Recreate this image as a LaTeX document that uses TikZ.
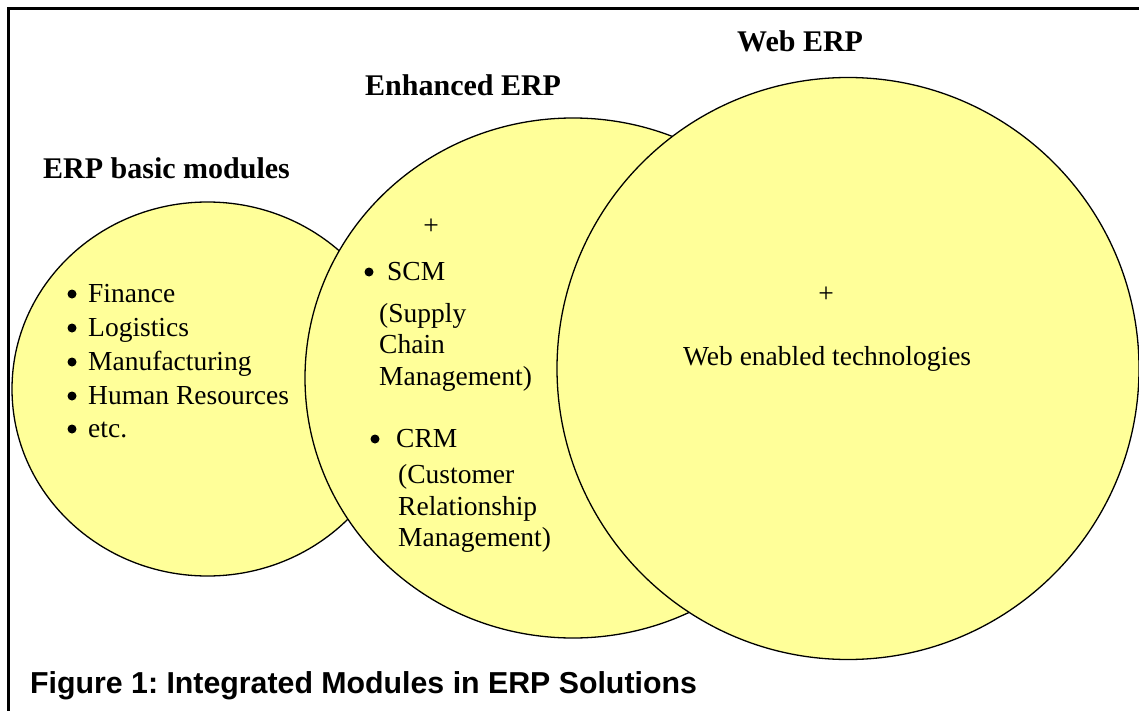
\documentclass[tikz,border=0pt]{standalone}
\usepackage{fontspec}
\setmainfont{Liberation Serif}
\newfontfamily\capfont{Liberation Sans}
\definecolor{blobyellow}{HTML}{FFFF99}
\frenchspacing
\begin{document}
\begin{tikzpicture}[x=1pt,y=-1pt,
  circ/.style={draw=black, line width=1.3pt, fill=blobyellow},
  heading/.style={font=\fontsize{30}{36}\selectfont\bfseries, inner sep=0pt, anchor=base west},
  body/.style={font=\fontsize{27.5}{33}\selectfont, inner sep=0pt, anchor=base west},
  plus/.style={font=\fontsize{27.5}{33}\selectfont, inner sep=0pt, anchor=center},
  dot/.style={circle, fill=black, inner sep=0pt, minimum size=9pt},
  caption/.style={font=\fontsize{30.3}{36}\selectfont\capfont\bfseries, inner sep=0pt, anchor=base west}
]
\useasboundingbox (0,0) rectangle (1139,711);
\fill[white] (0,0) rectangle (1139,711);
\draw[line width=2.2pt] (8.5,740) -- (8.5,8.5) -- (1170,8.5);

% circles
\path[circ] (207.5,389) ellipse [x radius=195.5, y radius=187];
\path[circ] (573,378) ellipse [x radius=268, y radius=260];
\path[circ] (848,368.5) circle [radius=291];

% headings
\node[heading] (hweb) at (737,52) {Web ERP};
\node[heading] (henh) at (365,96) {Enhanced ERP};
\node[heading] (hbas) at (43,179) {ERP basic modules};

% basic modules list
\node[dot] (b1) at (72,294) {};
\node[body] (t1) at (88,302) {Finance};
\node[dot] (b2) at (72,328) {};
\node[body] (t2) at (88,336) {Logistics};
\node[dot] (b3) at (72,362) {};
\node[body] (t3) at (88,370) {Manufacturing};
\node[dot] (b4) at (72,396) {};
\node[body] (t4) at (88,404) {Human Resources};
\node[dot] (b5) at (72,429) {};
\node[body] (t5) at (88,437) {etc.};

% enhanced ERP
\node[plus] (p1) at (431,227) {+};
\node[dot] (bs) at (369,272) {};
\node[body] (scm) at (387,280) {SCM};
\node[body] (scm1) at (379,322) {(Supply};
\node[body] (scm2) at (379,353) {Chain};
\node[body] (scm3) at (379,385) {Management)};
\node[dot] (bc) at (375,439) {};
\node[body] (crm) at (396,447) {CRM};
\node[body] (crm1) at (398,483) {(Customer};
\node[body] (crm2) at (398,515) {Relationship};
\node[body] (crm3) at (398,546) {Management)};

% web ERP
\node[plus] (p2) at (826,295) {+};
\node[body] (web) at (683,365) {Web enabled technologies};

% caption
\node[caption] (cap) at (30,693) {Figure 1: Integrated Modules in ERP Solutions};
\end{tikzpicture}
\end{document}
